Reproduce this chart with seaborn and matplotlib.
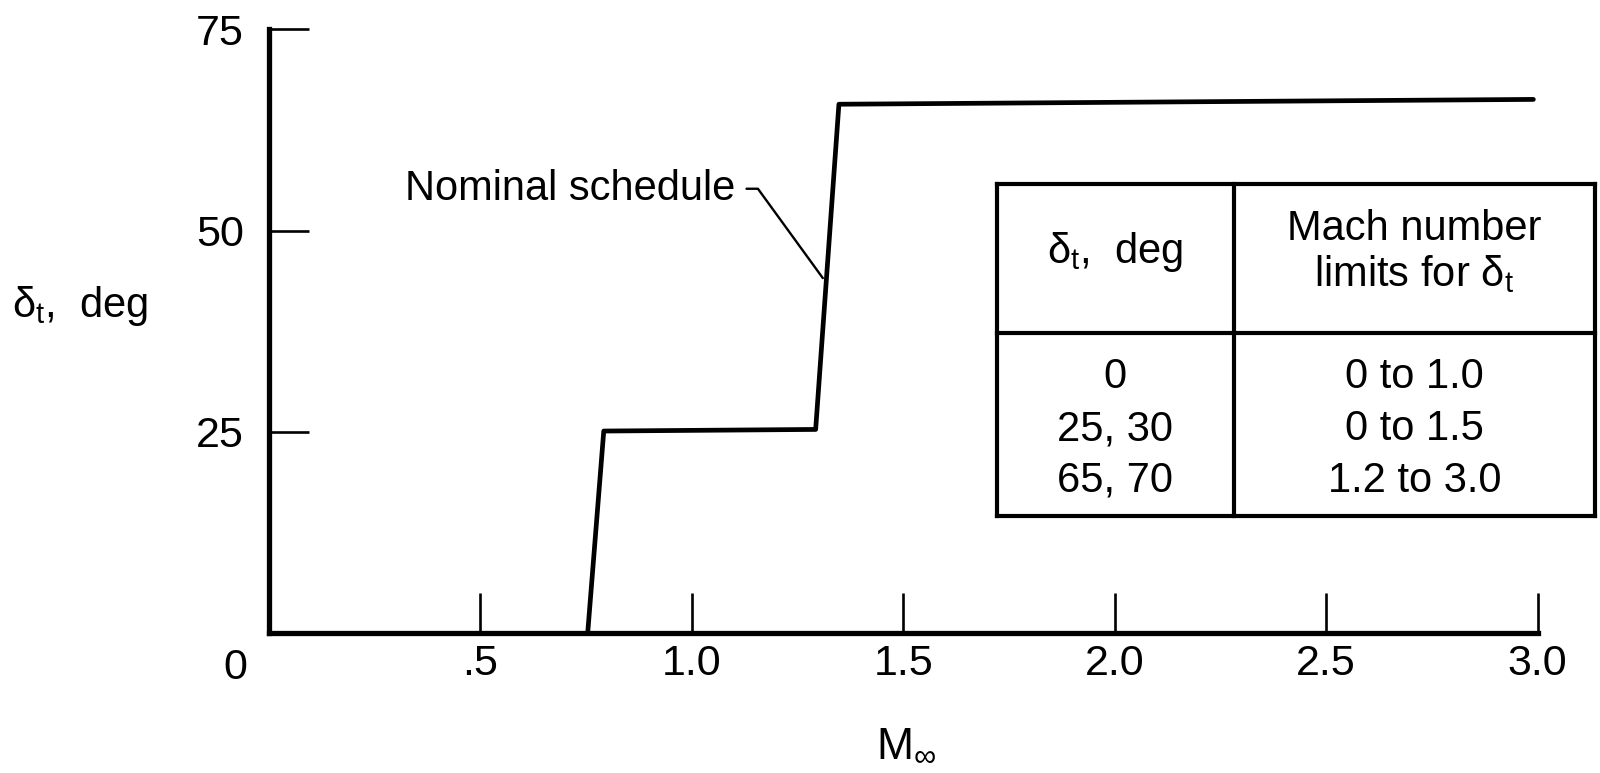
import matplotlib
matplotlib.use("Agg")
import matplotlib.pyplot as plt
import seaborn as sns
import pandas as pd

# Nominal deflection schedule
mach = [0.754, 0.792, 1.293, 1.348, 2.99]
delta_t = [0.0, 25.1, 25.3, 65.7, 66.3]

x_ticks = [0.5, 1.0, 1.5, 2.0, 2.5, 3.0]
x_tick_labels = [".5", "1.0", "1.5", "2.0", "2.5", "3.0"]
y_ticks = [25, 50, 75]
y_tick_labels = ["25", "50", "75"]

# Inset table
table_header = ["δ$_\\mathrm{t}$,  deg", "Mach number\nlimits for δ$_\\mathrm{t}$"]
table_deflections = ["0", "25, 30", "65, 70"]
table_mach_limits = ["0 to 1.0", "0 to 1.5", "1.2 to 3.0"]

df = pd.DataFrame({"mach": mach, "delta_t": delta_t})

sns.set_theme(style="white")
plt.rcParams["font.family"] = ["Liberation Sans", "DejaVu Sans"]
plt.rcParams["mathtext.fontset"] = "custom"
plt.rcParams["mathtext.rm"] = "Liberation Sans"
plt.rcParams["mathtext.it"] = "Liberation Sans:italic"
plt.rcParams["text.color"] = "black"
plt.rcParams["axes.labelcolor"] = "black"

FS = 30

fig = plt.figure(figsize=(16, 7.73), dpi=100)
ax = fig.add_axes([0.168, 0.181, 0.793, 0.781])

sns.lineplot(data=df, x="mach", y="delta_t", sort=False, estimator=None,
             color="black", linewidth=3.4, ax=ax, clip_on=False)

ax.set_xlim(0, 3.0)
ax.set_ylim(0, 75)
for side in ["top", "right"]:
    ax.spines[side].set_visible(False)
for side in ["left", "bottom"]:
    ax.spines[side].set_linewidth(3.8)
    ax.spines[side].set_color("black")
    ax.spines[side].set_capstyle("projecting")

ax.set_xticks(x_ticks)
ax.set_xticklabels(x_tick_labels)
ax.set_yticks(y_ticks)
ax.set_yticklabels(y_tick_labels)
ax.tick_params(axis="x", bottom=True, direction="in", length=29, width=1.9,
               pad=8, labelsize=FS + 1, colors="black")
ax.tick_params(axis="y", left=True, direction="in", length=29, width=1.9,
               pad=18, labelsize=FS + 1, colors="black")
ax.text(-0.078, -0.058, "0", transform=ax.get_xaxis_transform(),
        ha="center", va="center", fontsize=FS + 1)

ax.set_xlabel(r"M$_\infty$", fontsize=FS + 2)
ax.xaxis.set_label_coords(0.502, -0.205)
ax.xaxis.label.set_va("baseline")
ax.set_ylabel("δ$_\\mathrm{t}$,  deg", fontsize=FS, rotation=0,
              ha="center", va="center")
ax.yaxis.set_label_coords(-0.149, 0.541)

ax.annotate("Nominal schedule", xy=(1.31, 44.1), xytext=(1.102, 55.2),
            ha="right", va="center", fontsize=FS,
            arrowprops=dict(arrowstyle="-", color="black", lw=1.7,
                            shrinkA=6, shrinkB=0,
                            connectionstyle="angle,angleA=0,angleB=-54,rad=0"))

# inset table drawn in figure coordinates
left, mid, right = 0.623, 0.771, 0.997
top, hline, bottom = 0.762, 0.569, 0.333
lw = 3.0
for xs, ys in [([left, right], [top, top]), ([left, right], [hline, hline]),
               ([left, right], [bottom, bottom]), ([left, left], [bottom, top]),
               ([mid, mid], [bottom, top]), ([right, right], [bottom, top])]:
    fig.add_artist(plt.Line2D(xs, ys, color="black", linewidth=lw,
                              solid_capstyle="projecting"))

c1 = (left + mid) / 2
c2 = (mid + right) / 2
fig.text(c1, 0.674, table_header[0], ha="center", va="center", fontsize=FS)
fig.text(c2, 0.674, table_header[1], ha="center", va="center", fontsize=FS,
         linespacing=1.15)
row_y = [0.512, 0.445, 0.378]
for y, d, m in zip(row_y, table_deflections, table_mach_limits):
    fig.text(c1, y, d, ha="center", va="center", fontsize=FS)
    fig.text(c2, y, m, ha="center", va="center", fontsize=FS)

fig.savefig("out.png", dpi=100, facecolor="white")
